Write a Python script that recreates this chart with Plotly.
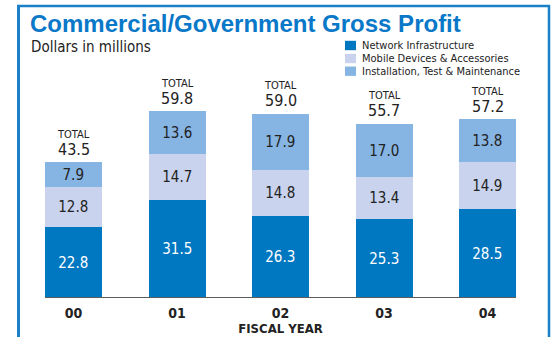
import plotly.graph_objects as go

W, H = 552, 337

years = ["00", "01", "02", "03", "04"]
network = [22.8, 31.5, 26.3, 25.3, 28.5]
mobile = [12.8, 14.7, 14.8, 13.4, 14.9]
install = [7.9, 13.6, 17.9, 17.0, 13.8]
totals = [43.5, 59.8, 59.0, 55.7, 57.2]

series = [
    ("Network Infrastructure", network, "#0077c1", "white"),
    ("Mobile Devices & Accessories", mobile, "#c9d3ee", "#222222"),
    ("Installation, Test & Maintenance", install, "#86b4e3", "#222222"),
]

NARROW = "DejaVu Sans Condensed, Liberation Sans Narrow, Liberation Sans, sans-serif"
BLUE = "#0a78c8"

def px_x(p):
    return p / W

def px_y(p):
    return 1 - p / H

fig = go.Figure()
for name, vals, color, tcolor in series:
    fig.add_trace(go.Bar(
        x=years, y=vals, name=name,
        marker=dict(color=color, line=dict(width=0)),
        width=0.55,
        text=[f"{v:.1f}" for v in vals],
        textposition="inside",
        insidetextanchor="middle",
        textangle=0,
        constraintext="none",
        textfont=dict(family=NARROW, size=15, color=tcolor),
        showlegend=False,
        hoverinfo="skip",
    ))

annotations = []
for yr, t in zip(years, totals):
    annotations.append(dict(
        x=yr, y=t, xref="x", yref="y", text=f"{t:.1f}", showarrow=False,
        yanchor="middle", yshift=13,
        font=dict(family=NARROW, size=16, color="#222222"),
    ))
    annotations.append(dict(
        x=yr, y=t, xref="x", yref="y", text="TOTAL", showarrow=False,
        yanchor="middle", yshift=28,
        font=dict(family=NARROW, size=11, color="#222222"),
    ))

# title and subtitle
annotations.append(dict(
    x=px_x(28), y=px_y(23), xref="paper", yref="paper", xanchor="left", yanchor="middle",
    text="<b>Commercial/Government Gross Profit</b>", showarrow=False,
    font=dict(family="Liberation Sans, Arial, sans-serif", size=24, color=BLUE),
))
annotations.append(dict(
    x=px_x(29), y=px_y(47), xref="paper", yref="paper", xanchor="left", yanchor="middle",
    text="Dollars in millions", showarrow=False,
    font=dict(family=NARROW, size=15, color="#222222"),
))

shapes = []
# legend swatches and labels
leg_rows = [45.5, 58.5, 71.2]
for (name, _, color, _), cy in zip(series, leg_rows):
    shapes.append(dict(
        type="rect", xref="paper", yref="paper",
        x0=px_x(345), x1=px_x(356), y0=px_y(cy + 4.7), y1=px_y(cy - 4.7),
        fillcolor=color, line=dict(width=0),
    ))
    annotations.append(dict(
        x=px_x(360), y=px_y(cy), xref="paper", yref="paper", xanchor="left", yanchor="middle",
        text=name, showarrow=False,
        font=dict(family=NARROW, size=11, color="#222222"),
    ))

# baseline under the bars
shapes.append(dict(
    type="line", xref="x", yref="y", x0=-0.275, x1=4.275, y0=0, y1=0,
    line=dict(color="#5c5c5c", width=2), layer="above",
))

# frame
shapes.append(dict(type="line", xref="paper", yref="paper",
                   x0=px_x(18.5), x1=px_x(18.5), y0=px_y(5), y1=0,
                   line=dict(color="#1a80c8", width=3)))
shapes.append(dict(type="line", xref="paper", yref="paper",
                   x0=px_x(17), x1=px_x(550), y0=px_y(6), y1=px_y(6),
                   line=dict(color="#1a80c8", width=2.5)))
shapes.append(dict(type="line", xref="paper", yref="paper",
                   x0=px_x(549), x1=px_x(549), y0=px_y(5), y1=0,
                   line=dict(color="#1a80c8", width=2.5)))

x0p, x1p = 21.75, 539.25
y_base, y_top = 298, 48

fig.update_layout(
    width=W, height=H,
    margin=dict(l=0, r=0, t=0, b=0),
    paper_bgcolor="white", plot_bgcolor="white",
    barmode="stack",
    bargap=0,
    xaxis=dict(
        domain=[x0p / W, x1p / W],
        range=[-0.5, 4.5],
        type="category",
        showgrid=False, zeroline=False, showline=False, ticks="",
        ticklabelstandoff=5,
        tickfont=dict(family=NARROW, size=14, color="#222222", weight="bold"),
        title=dict(text="<b>FISCAL YEAR</b>", standoff=0,
                   font=dict(family=NARROW, size=13, color="#222222")),
    ),
    yaxis=dict(
        domain=[1 - y_base / H, 1 - y_top / H],
        range=[0, 80],
        visible=False,
    ),
    annotations=annotations,
    shapes=shapes,
    font=dict(family=NARROW),
)

fig.write_html("out.html")
